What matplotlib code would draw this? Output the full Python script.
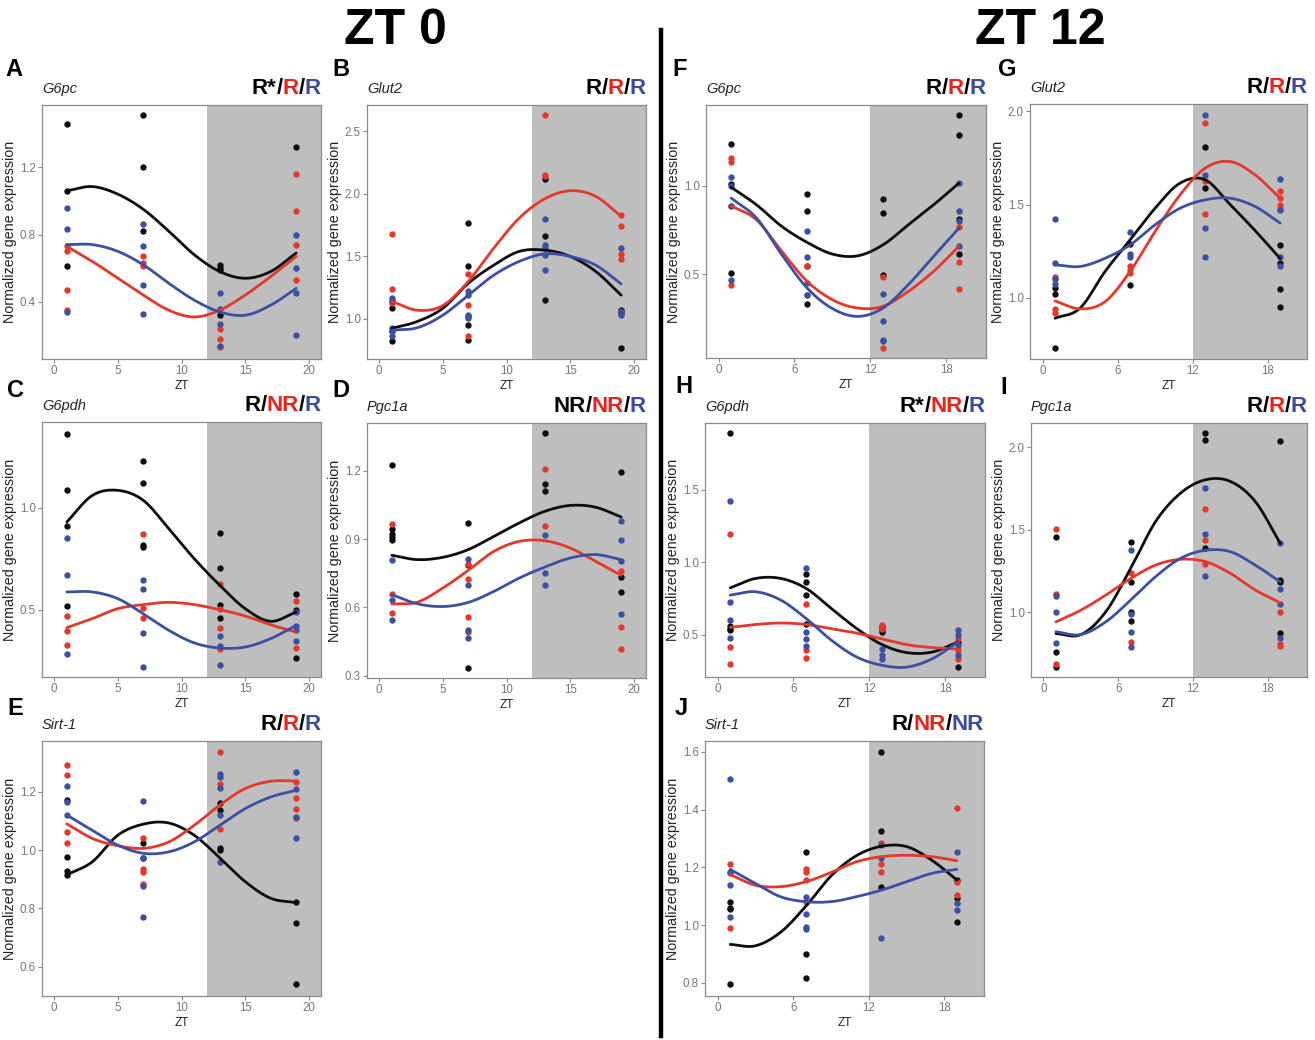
import numpy as np
import matplotlib
matplotlib.use('Agg')
import matplotlib.pyplot as plt
from matplotlib.offsetbox import TextArea, HPacker, AnchoredOffsetbox

plt.rcParams['font.family'] = ['Liberation Sans', 'DejaVu Sans']

# ---------------- data ----------------
SAMPLE_ZT = [1, 7, 13, 19]
FIT_ZT = [1, 3, 5, 7, 9, 11, 13, 15, 17, 19]

# Panel A  (ZT 0, G6pc)
A_gene = 'G6pc'
A_status = ['R*', 'R', 'R']
A_pts_black = [[1.46, 1.06, 0.61], [1.51, 1.20, 0.82], [0.62, 0.60, 0.59, 0.32], [1.32]]
A_pts_red = [[0.73, 0.70, 0.47, 0.35], [0.67, 0.63, 0.61], [0.24, 0.18, 0.13], [1.16, 0.94, 0.74, 0.53]]
A_pts_blue = [[0.96, 0.83, 0.34], [0.86, 0.73, 0.50, 0.33], [0.45, 0.36, 0.27, 0.14], [0.80, 0.60, 0.45, 0.20]]
A_fit_black = [1.06, 1.085, 1.04, 0.95, 0.82, 0.68, 0.58, 0.54, 0.58, 0.69]
A_fit_red = [0.73, 0.64, 0.54, 0.44, 0.35, 0.31, 0.35, 0.44, 0.55, 0.67]
A_fit_blue = [0.74, 0.74, 0.70, 0.62, 0.51, 0.41, 0.34, 0.32, 0.38, 0.48]
A_yticks = [0.4, 0.8, 1.2]

# Panel B  (ZT 0, Glut2)
B_gene = 'Glut2'
B_status = ['R', 'R', 'R']
B_pts_black = [[1.09, 0.90, 0.82], [1.77, 1.42, 1.02, 0.95, 0.83], [2.12, 1.66, 1.15], [1.07, 1.05, 0.77]]
B_pts_red = [[1.68, 1.24, 1.14, 1.13], [1.36, 1.11, 0.86], [2.63, 2.15, 2.14], [1.83, 1.74, 1.52, 1.48]]
B_pts_blue = [[1.17, 1.14, 0.93, 0.90, 0.86], [1.22, 1.19, 1.03, 1.01], [1.80, 1.59, 1.57, 1.51, 1.39], [1.57, 1.06, 1.03]]
B_fit_black = [0.925, 0.98, 1.085, 1.285, 1.43, 1.54, 1.55, 1.50, 1.38, 1.19]
B_fit_red = [1.14, 1.07, 1.107, 1.30, 1.566, 1.806, 1.96, 2.025, 1.98, 1.82]
B_fit_blue = [0.91, 0.93, 1.03, 1.19, 1.35, 1.46, 1.52, 1.50, 1.43, 1.28]
B_yticks = [1.0, 1.5, 2.0, 2.5]

# Panel C  (ZT 0, G6pdh)
C_gene = 'G6pdh'
C_status = ['R', 'NR', 'R']
C_pts_black = [[1.36, 1.085, 0.91, 0.52], [1.23, 1.12, 0.815, 0.807], [0.876, 0.704, 0.521, 0.461], [0.577, 0.497, 0.265]]
C_pts_red = [[0.469, 0.395, 0.327], [0.873, 0.508, 0.461], [0.627, 0.503, 0.41, 0.309], [0.541, 0.312]]
C_pts_blue = [[0.851, 0.668, 0.284], [0.647, 0.603, 0.386, 0.219], [0.371, 0.32, 0.227], [0.49, 0.42, 0.40, 0.345]]
C_fit_black = [0.93, 1.06, 1.085, 1.036, 0.897, 0.75, 0.62, 0.505, 0.443, 0.489]
C_fit_red = [0.412, 0.456, 0.505, 0.525, 0.536, 0.525, 0.50, 0.469, 0.426, 0.39]
C_fit_blue = [0.587, 0.587, 0.554, 0.48, 0.399, 0.337, 0.312, 0.317, 0.358, 0.423]
C_yticks = [0.5, 1.0]

# Panel D  (ZT 0, Pgc1a)
D_gene = 'Pgc1a'
D_status = ['NR', 'NR', 'R']
D_pts_black = [[1.226, 0.946, 0.924, 0.909, 0.895], [0.969, 0.785, 0.333], [1.365, 1.144, 1.113], [1.195, 0.732, 0.666]]
D_pts_red = [[0.966, 0.659, 0.575], [0.792, 0.725, 0.558, 0.494], [1.208, 0.956], [0.758, 0.516, 0.418]]
D_pts_blue = [[0.81, 0.632, 0.546], [0.812, 0.697, 0.502, 0.465], [0.92, 0.75, 0.70], [0.978, 0.895, 0.805, 0.571]]
D_fit_black = [0.829, 0.81, 0.82, 0.854, 0.912, 0.971, 1.022, 1.048, 1.04, 0.997]
D_fit_red = [0.615, 0.623, 0.685, 0.763, 0.846, 0.89, 0.893, 0.861, 0.802, 0.741]
D_fit_blue = [0.656, 0.616, 0.604, 0.622, 0.67, 0.729, 0.777, 0.817, 0.832, 0.81]
D_yticks = [0.3, 0.6, 0.9, 1.2]

# Panel E  (ZT 0, Sirt-1)
E_gene = 'Sirt-1'
E_status = ['R', 'R', 'R']
E_pts_black = [[1.171, 0.975, 0.928, 0.915], [1.024, 0.972], [1.162, 1.137, 1.006, 1.002], [0.821, 0.749, 0.541]]
E_pts_red = [[1.293, 1.259, 1.063, 1.025], [1.04, 0.935, 0.926, 0.883], [1.336, 1.228, 1.074], [1.234, 1.18, 1.142, 1.11]]
E_pts_blue = [[1.219, 1.165, 1.12], [1.17, 0.972, 0.877, 0.772], [1.26, 1.251, 1.214, 1.12, 0.958], [1.268, 1.209, 1.114, 1.042]]
E_fit_black = [0.915, 0.96, 1.051, 1.089, 1.093, 1.051, 0.974, 0.892, 0.835, 0.82]
E_fit_red = [1.09, 1.04, 1.015, 1.006, 1.028, 1.085, 1.154, 1.211, 1.236, 1.237]
E_fit_blue = [1.12, 1.068, 1.017, 0.989, 0.994, 1.028, 1.085, 1.142, 1.182, 1.205]
E_yticks = [0.6, 0.8, 1.0, 1.2]

# Panel F  (ZT 12, G6pc)
F_gene = 'G6pc'
F_status = ['R', 'R', 'R']
F_pts_black = [[1.235, 1.008, 0.506], [0.951, 0.859, 0.547, 0.331], [0.923, 0.844, 0.496], [1.397, 1.286, 0.812, 0.613]]
F_pts_red = [[1.158, 1.135, 0.885, 0.44], [0.547, 0.383], [0.481, 0.083], [0.765, 0.571, 0.415]]
F_pts_blue = [[1.051, 1.0, 0.885, 0.468], [0.741, 0.596, 0.449, 0.38], [0.387, 0.233, 0.13, 0.121], [1.013, 0.859, 0.797, 0.66]]
F_fit_black = [0.99, 0.891, 0.769, 0.679, 0.613, 0.603, 0.665, 0.778, 0.891, 1.013]
F_fit_red = [0.885, 0.806, 0.628, 0.459, 0.355, 0.308, 0.318, 0.402, 0.515, 0.656]
F_fit_blue = [0.929, 0.816, 0.609, 0.421, 0.305, 0.261, 0.308, 0.44, 0.60, 0.759]
F_yticks = [0.5, 1.0]

# Panel G  (ZT 12, Glut2)
G_gene = 'Glut2'
G_status = ['R', 'R', 'R']
G_pts_black = [[1.05, 1.018, 0.728], [1.287, 1.065], [1.808, 1.591], [1.28, 1.185, 1.045, 0.948]]
G_pts_red = [[1.113, 0.937, 0.916], [1.17, 1.149, 1.131], [1.937, 1.627, 1.448], [1.57, 1.534, 1.495, 1.477]]
G_pts_blue = [[1.421, 1.185, 1.10, 1.072], [1.355, 1.233, 1.22], [1.98, 1.656, 1.375, 1.219], [1.638, 1.471, 1.22, 1.167]]
G_fit_black = [0.889, 0.943, 1.14, 1.31, 1.48, 1.615, 1.633, 1.50, 1.36, 1.21]
G_fit_red = [0.982, 0.939, 0.978, 1.14, 1.355, 1.552, 1.695, 1.731, 1.659, 1.534]
G_fit_blue = [1.176, 1.167, 1.211, 1.283, 1.391, 1.48, 1.525, 1.534, 1.489, 1.40]
G_yticks = [1.0, 1.5, 2.0]

# Panel H  (ZT 12, G6pdh)
H_gene = 'G6pdh'
H_status = ['R*', 'NR', 'R']
H_pts_black = [[1.893, 0.56, 0.54, 0.53], [0.916, 0.865, 0.773, 0.576], [0.553, 0.53, 0.518], [0.449, 0.276]]
H_pts_red = [[1.193, 0.415, 0.294], [0.708, 0.391, 0.338], [0.565, 0.542], [0.472, 0.391, 0.334]]
H_pts_blue = [[1.424, 0.726, 0.599, 0.477], [0.962, 0.518, 0.472, 0.421], [0.403, 0.361, 0.334], [0.535, 0.495, 0.426, 0.357]]
H_fit_black = [0.823, 0.888, 0.888, 0.819, 0.68, 0.542, 0.431, 0.375, 0.38, 0.449]
H_fit_red = [0.55, 0.57, 0.58, 0.57, 0.54, 0.51, 0.47, 0.43, 0.41, 0.40]
H_fit_blue = [0.773, 0.796, 0.738, 0.611, 0.461, 0.345, 0.288, 0.276, 0.334, 0.449]
H_yticks = [0.5, 1.0, 1.5]

# Panel I  (ZT 12, Pgc1a)
I_gene = 'Pgc1a'
I_status = ['R', 'R', 'R']
I_pts_black = [[1.46, 0.761, 0.67], [1.429, 1.182, 1.004, 0.947], [2.087, 2.047, 1.389], [2.04, 1.196, 1.186, 0.876]]
I_pts_red = [[1.504, 1.109, 0.686], [1.237, 0.822], [1.625, 1.439, 1.291], [1.004, 0.806, 0.798]]
I_pts_blue = [[1.099, 1.004, 0.814], [1.379, 0.988, 0.883, 0.792], [1.753, 1.474, 1.223], [1.419, 1.142, 1.049, 0.846]]
I_fit_black = [0.872, 0.866, 1.004, 1.267, 1.551, 1.723, 1.804, 1.794, 1.672, 1.419]
I_fit_red = [0.943, 1.014, 1.105, 1.206, 1.287, 1.322, 1.308, 1.237, 1.136, 1.059]
I_fit_blue = [0.883, 0.866, 0.943, 1.075, 1.217, 1.328, 1.377, 1.368, 1.287, 1.186]
I_yticks = [1.0, 1.5, 2.0]

# Panel J  (ZT 12, Sirt-1)
J_gene = 'Sirt-1'
J_status = ['R', 'NR', 'NR']
J_pts_black = [[1.081, 1.058, 1.054, 0.795], [1.254, 0.898, 0.818], [1.60, 1.325, 1.133], [1.156, 1.092, 1.009]]
J_pts_red = [[1.212, 1.179, 0.988], [1.193, 1.185, 1.156, 1.081], [1.283, 1.213, 1.185], [1.404, 1.15, 1.104]]
J_pts_blue = [[1.505, 1.185, 1.138, 1.029], [1.098, 1.037, 0.994, 0.986], [1.279, 1.231, 0.956], [1.254, 1.075, 1.052]]
J_fit_black = [0.933, 0.928, 0.975, 1.065, 1.17, 1.24, 1.273, 1.272, 1.225, 1.156]
J_fit_red = [1.175, 1.138, 1.133, 1.15, 1.182, 1.219, 1.237, 1.242, 1.237, 1.223]
J_fit_blue = [1.193, 1.144, 1.098, 1.081, 1.081, 1.098, 1.121, 1.15, 1.179, 1.193]
J_yticks = [0.8, 1.0, 1.2, 1.4, 1.6]

XTICKS_ZT0 = [0, 5, 10, 15, 20]
XTICKS_ZT12 = [0, 6, 12, 18]

# ---------------- style / layout ----------------
W, H = 1315, 1040
COL = {'black': '#0d0d0d', 'red': '#E4382B', 'blue': '#3C4FA3'}
LAB_COL = ['#000000', '#E8231C', '#3A4BA0']
SHADE = '#BEBEBE'

# name: (left, top, right, bottom) px, ylim, xlim, xticks, letter pos
LAYOUT = {
    'A': ((42, 105, 321, 359), (0.06, 1.57), (-0.95, 20.95), XTICKS_ZT0, (5, 76)),
    'B': ((367, 105, 646, 359), (0.68, 2.71), (-0.95, 20.95), XTICKS_ZT0, (332, 76)),
    'C': ((42, 422, 321, 677), (0.17, 1.42), (-0.95, 20.95), XTICKS_ZT0, (7, 397)),
    'D': ((367, 423, 646, 678), (0.29, 1.41), (-0.95, 20.95), XTICKS_ZT0, (332, 397)),
    'E': ((42, 741, 321, 996), (0.50, 1.374), (-0.95, 20.95), XTICKS_ZT0, (7, 715)),
    'F': ((706, 105, 986, 358), (0.026, 1.455), (-1.0, 21.15), XTICKS_ZT12, (672, 76)),
    'G': ((1030, 104, 1307, 359), (0.67, 2.04), (-1.0, 21.15), XTICKS_ZT12, (998, 76)),
    'H': ((705, 423, 985, 677), (0.207, 1.962), (-1.0, 21.15), XTICKS_ZT12, (675, 393)),
    'I': ((1031, 423, 1307, 677), (0.609, 2.148), (-1.0, 21.15), XTICKS_ZT12, (1000, 394)),
    'J': ((705, 741, 984, 996), (0.754, 1.638), (-1.0, 21.15), XTICKS_ZT12, (675, 715)),
}

PANELS = {
    'A': (A_gene, A_status, A_pts_black, A_pts_red, A_pts_blue, A_fit_black, A_fit_red, A_fit_blue, A_yticks),
    'B': (B_gene, B_status, B_pts_black, B_pts_red, B_pts_blue, B_fit_black, B_fit_red, B_fit_blue, B_yticks),
    'C': (C_gene, C_status, C_pts_black, C_pts_red, C_pts_blue, C_fit_black, C_fit_red, C_fit_blue, C_yticks),
    'D': (D_gene, D_status, D_pts_black, D_pts_red, D_pts_blue, D_fit_black, D_fit_red, D_fit_blue, D_yticks),
    'E': (E_gene, E_status, E_pts_black, E_pts_red, E_pts_blue, E_fit_black, E_fit_red, E_fit_blue, E_yticks),
    'F': (F_gene, F_status, F_pts_black, F_pts_red, F_pts_blue, F_fit_black, F_fit_red, F_fit_blue, F_yticks),
    'G': (G_gene, G_status, G_pts_black, G_pts_red, G_pts_blue, G_fit_black, G_fit_red, G_fit_blue, G_yticks),
    'H': (H_gene, H_status, H_pts_black, H_pts_red, H_pts_blue, H_fit_black, H_fit_red, H_fit_blue, H_yticks),
    'I': (I_gene, I_status, I_pts_black, I_pts_red, I_pts_blue, I_fit_black, I_fit_red, I_fit_blue, I_yticks),
    'J': (J_gene, J_status, J_pts_black, J_pts_red, J_pts_blue, J_fit_black, J_fit_red, J_fit_blue, J_yticks),
}


def smooth_curve(xs, ys, n=24):
    """Catmull-Rom rendering through the read-off fit values."""
    xs = np.asarray(xs, float)
    ys = np.asarray(ys, float)
    P = np.concatenate([[2 * ys[0] - ys[1]], ys, [2 * ys[-1] - ys[-2]]])
    ox, oy = [], []
    t = np.linspace(0, 1, n, endpoint=False)
    for i in range(len(xs) - 1):
        p0, p1, p2, p3 = P[i], P[i + 1], P[i + 2], P[i + 3]
        y = 0.5 * ((2 * p1) + (-p0 + p2) * t + (2 * p0 - 5 * p1 + 4 * p2 - p3) * t ** 2
                   + (-p0 + 3 * p1 - 3 * p2 + p3) * t ** 3)
        ox.append(xs[i] + (xs[i + 1] - xs[i]) * t)
        oy.append(y)
    ox.append([xs[-1]])
    oy.append([ys[-1]])
    return np.concatenate(ox), np.concatenate(oy)


def px_rect(l, t, r, b):
    return [l / W, 1 - b / H, (r - l) / W, (b - t) / H]


fig = plt.figure(figsize=(W / 100, H / 100), dpi=100)
fig.patch.set_facecolor('white')

for name, (gene, status, pb, pr, pbl, fb, fr, fbl, yt) in PANELS.items():
    rect, ylim, xlim, xt, lpos = LAYOUT[name]
    ax = fig.add_axes(px_rect(*rect))
    ax.set_xlim(*xlim)
    ax.set_ylim(*ylim)
    ax.axvspan(12, 30, color=SHADE, lw=0, zorder=0)
    for grp, pts in (('black', pb), ('red', pr), ('blue', pbl)):
        xs, ys = [], []
        for zt, vals in zip(SAMPLE_ZT, pts):
            xs += [zt] * len(vals)
            ys += vals
        ax.scatter(xs, ys, s=21, color=COL[grp], lw=0, zorder=2)
    for grp, fit in (('black', fb), ('red', fr), ('blue', fbl)):
        cx, cy = smooth_curve(FIT_ZT, fit)
        ax.plot(cx, cy, color=COL[grp], lw=2.0, zorder=3, solid_capstyle='round')
    ax.set_xticks(xt)
    ax.set_yticks(yt)
    ax.set_yticklabels([f'{v:.1f}' for v in yt])
    ax.tick_params(axis='both', colors='#8a8a8a', labelcolor='#777777', labelsize=8.3,
                   length=3, width=0.8, pad=1.5)
    for sp in ax.spines.values():
        sp.set_color('#8a8a8a')
        sp.set_linewidth(0.9)
    ax.set_xlabel('ZT', fontsize=8.5, color='#222222', labelpad=2)
    ax.set_ylabel('Normalized gene expression', fontsize=10.3, color='#222222', labelpad=2)
    ax.set_facecolor('white')

    # gene name (italic)
    ax.text(0.0, 1.035, gene, transform=ax.transAxes, fontsize=10.5, style='italic',
            ha='left', va='bottom', color='#222222')

    # rhythmicity status, multi-coloured
    parts = []
    for i, (lab, c) in enumerate(zip(status, LAB_COL)):
        if i > 0:
            parts.append(TextArea('/', textprops=dict(color='#000000', fontsize=16, fontweight='bold')))
        parts.append(TextArea(lab, textprops=dict(color=c, fontsize=16, fontweight='bold')))
    box = HPacker(children=parts, align='baseline', pad=0, sep=0)
    anc = AnchoredOffsetbox(loc='lower right', child=box, pad=0, borderpad=0, frameon=False,
                            bbox_to_anchor=(1.0, 1.025), bbox_transform=ax.transAxes)
    ax.add_artist(anc)

    # panel letter
    fig.text(lpos[0] / W, 1 - lpos[1] / H, name, fontsize=17, fontweight='bold',
             ha='left', va='baseline', color='black')

# column titles
fig.text(395 / W, 1 - 44 / H, 'ZT 0', fontsize=36, fontweight='bold', ha='center', va='baseline')
fig.text(1040 / W, 1 - 44 / H, 'ZT 12', fontsize=36, fontweight='bold', ha='center', va='baseline')

# divider
fig.add_artist(plt.Line2D([661 / W, 661 / W], [1 - 30 / H, 1 - 1036 / H], transform=fig.transFigure,
                          color='black', lw=3.2))

fig.savefig('out.png', dpi=100, facecolor='white')
